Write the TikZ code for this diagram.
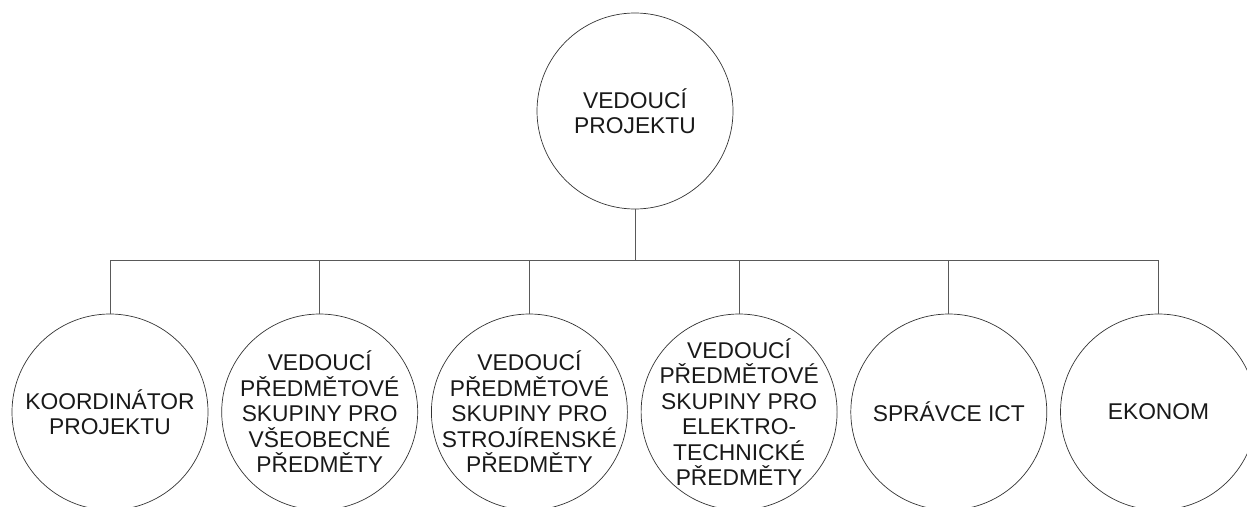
\documentclass[tikz,border=0pt]{standalone}
\usepackage{fontspec}
\setmainfont{Liberation Sans}
\usepackage{tikz}
\usetikzlibrary{positioning}

\begin{document}
\begin{tikzpicture}[
    x=1pt, y=1pt,
    node distance=13pt,
    role/.style={circle, draw=black!80, line width=0.7pt, minimum size=196pt, inner sep=-22pt, align=center, text=black!90, font=\fontsize{22.8}{25.5}\selectfont},
    link/.style={draw=black!65, line width=1pt}
]
\clip (0,0) rectangle (1247,-506);

% Head
\node[role] (head) at (635,-111) {VEDOUCÍ\\PROJEKTU};
\coordinate (bus) at (635,-260);

% Subordinates
\node[role] (koord) at (110,-412) {KOORDINÁTOR\\PROJEKTU};
\node[role, right=of koord] (vseob) {VEDOUCÍ\\PŘEDMĚTOVÉ\\SKUPINY PRO\\VŠEOBECNÉ\\PŘEDMĚTY};
\node[role, right=of vseob] (stroj) {VEDOUCÍ\\PŘEDMĚTOVÉ\\SKUPINY PRO\\STROJÍRENSKÉ\\PŘEDMĚTY};
\node[role, right=of stroj] (elektro) {VEDOUCÍ\\PŘEDMĚTOVÉ\\SKUPINY PRO\\ELEKTRO-\\TECHNICKÉ\\PŘEDMĚTY};
\node[role, right=of elektro] (ict) {SPRÁVCE ICT};
\node[role, right=of ict] (ekonom) {EKONOM};

% Lines
\draw[link] (head) -- (bus);
\foreach \n in {koord,vseob,stroj,elektro,ict,ekonom}
    \draw[link] (\n.north) |- (bus);
\end{tikzpicture}
\end{document}
